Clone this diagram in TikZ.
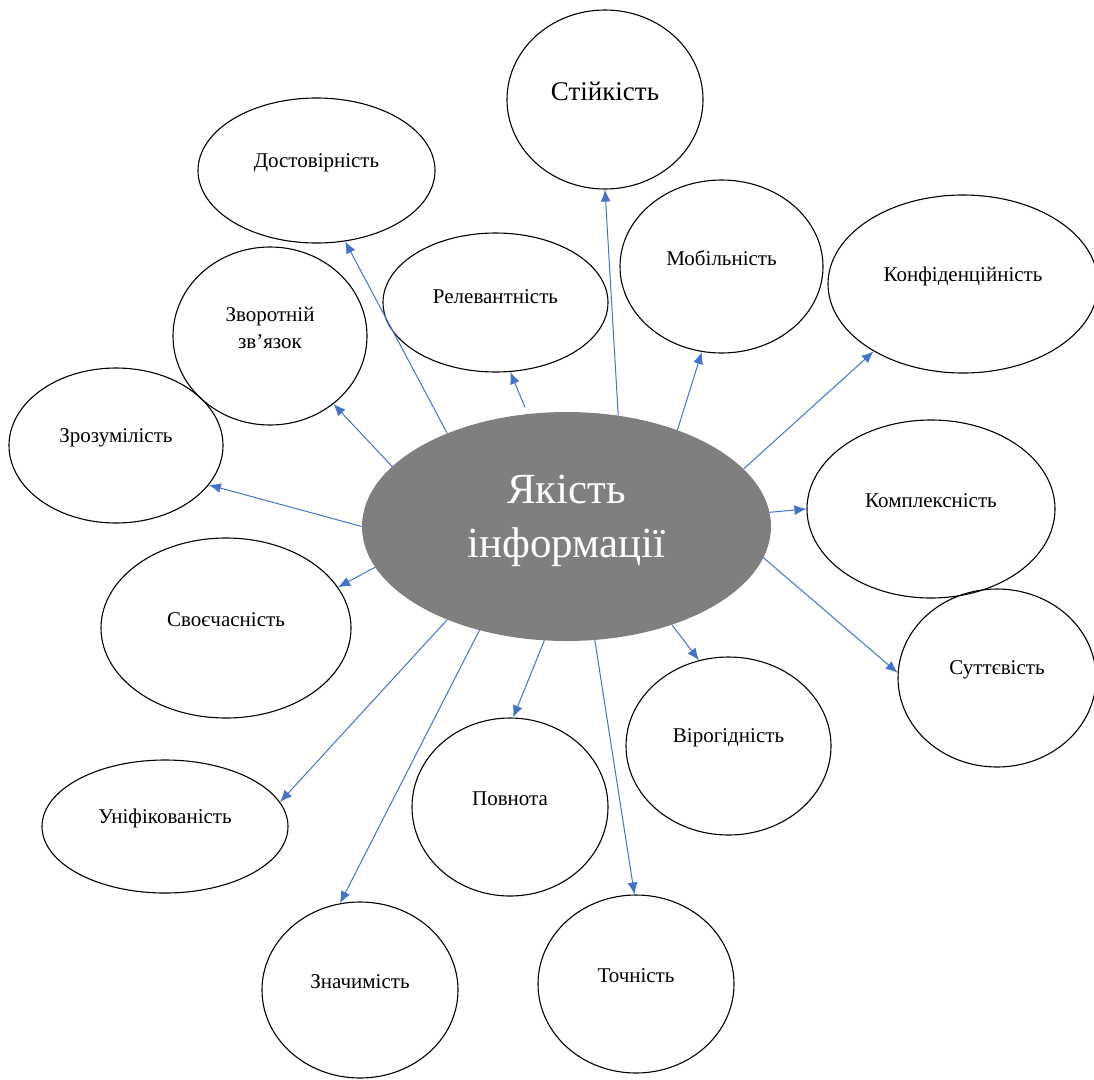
\documentclass[tikz,border=0pt]{standalone}
\usepackage{fontspec}
\setmainfont{Liberation Serif}
\usetikzlibrary{arrows.meta,shapes.geometric}

\definecolor{linkblue}{HTML}{4472C4}
\definecolor{coregray}{HTML}{7F7F7F}

\begin{document}
\begin{tikzpicture}[x=1pt, y=-1pt,
            ->,
            >={Latex[length=12pt,width=10pt]},
            bubble/.style={draw, ellipse, line width=1.1pt, inner sep=0pt},
            tag/.style={font=\fontsize{21}{27}\selectfont, inner sep=0pt},
            link/.style={draw=linkblue, line width=1pt}]

        \useasboundingbox (0,0) rectangle (1094,1079);

        % centre
        \node[ellipse, fill=coregray, minimum width=409, minimum height=229] (core) at (566.5,526.5) {};
        \node[text=white, align=center, inner sep=0pt,
              font=\fontsize{43}{54}\selectfont] (core-t) at ([yshift=6]core.center) {Якість\\інформації};

        % bubbles
        \node[bubble, minimum width=196, minimum height=179] (stii) at (605,99.5)   {};
        \node[bubble, minimum width=237, minimum height=145] (dost) at (316.5,170.5) {};
        \node[bubble, minimum width=225, minimum height=139] (rele) at (495.5,302.5) {};
        \node[bubble, minimum width=203, minimum height=173] (mobi) at (721.5,266.5) {};
        \node[bubble, minimum width=270, minimum height=178] (konf) at (963,284)     {};
        \node[bubble, minimum width=194, minimum height=178] (zvor) at (270,336)     {};
        \node[bubble, minimum width=214, minimum height=155] (zroz) at (116,445.5)   {};
        \node[bubble, minimum width=248, minimum height=178] (komp) at (931,509)     {};
        \node[bubble, minimum width=250, minimum height=180] (svoe) at (226,628)     {};
        \node[bubble, minimum width=198, minimum height=178] (sutt) at (997,678)     {};
        \node[bubble, minimum width=205, minimum height=178] (viro) at (728.5,746)   {};
        \node[bubble, minimum width=196, minimum height=178] (povn) at (510,807)     {};
        \node[bubble, minimum width=246, minimum height=133] (unif) at (165,826.5)   {};
        \node[bubble, minimum width=196, minimum height=176] (znach) at (360,990)    {};
        \node[bubble, minimum width=196, minimum height=178] (tochn) at (636,984)    {};

        % labels
        \node[tag, font=\fontsize{27}{32}\selectfont] (stii-t) at ([yshift=8]stii.center) {Стійкість};
        \node[tag] (dost-t)  at ([yshift=8]dost.center)  {Достовірність};
        \node[tag] (rele-t)  at ([yshift=6]rele.center)  {Релевантність};
        \node[tag] (mobi-t)  at ([yshift=8]mobi.center)  {Мобільність};
        \node[tag] (konf-t)  at ([yshift=8]konf.center)  {Конфіденційність};
        \node[tag, align=center] (zvor-t) at ([yshift=8]zvor.center) {Зворотній\\зв’язок};
        \node[tag] (zroz-t)  at ([yshift=8]zroz.center)  {Зрозумілість};
        \node[tag] (komp-t)  at ([yshift=8]komp.center)  {Комплексність};
        \node[tag] (svoe-t)  at ([yshift=8]svoe.center)  {Своєчасність};
        \node[tag] (sutt-t)  at ([yshift=8]sutt.center)  {Суттєвість};
        \node[tag] (viro-t)  at ([yshift=8]viro.center)  {Вірогідність};
        \node[tag] (povn-t)  at ([yshift=8]povn.center)  {Повнота};
        \node[tag] (unif-t)  at ([yshift=8]unif.center)  {Уніфікованість};
        \node[tag] (znach-t) at ([yshift=8]znach.center) {Значимість};
        \node[tag] (tochn-t) at ([yshift=8]tochn.center) {Точність};

        % arrows
        \path (core.65.2)  edge[link] (stii.270)
              (core.142.6) edge[link] (dost.292.9)
              (core.109.2) edge[link, shorten <=7pt] (rele.282.8)
              (core.41.5)  edge[link] (mobi.257.3)
              (core.18.2)  edge[link] (konf.217.4)
              (core.161.7) edge[link] (zvor.313.8)
              (core.180)   edge[link] (zroz.337.3)
              (core.4.7)   edge[link] (komp.180.5)
              (core.192.1) edge[link] (svoe.20.8)
              (core.351.8) edge[link] (sutt.177.1)
              (core.317.5) edge[link] (viro.109.1)
              (core.259.3) edge[link] (povn.88.7)
              (core.218.6) edge[link] (unif.12)
              (core.230)   edge[link] (znach.103.4)
              (core.284)   edge[link] (tochn.91.9);

    \end{tikzpicture}
\end{document}
